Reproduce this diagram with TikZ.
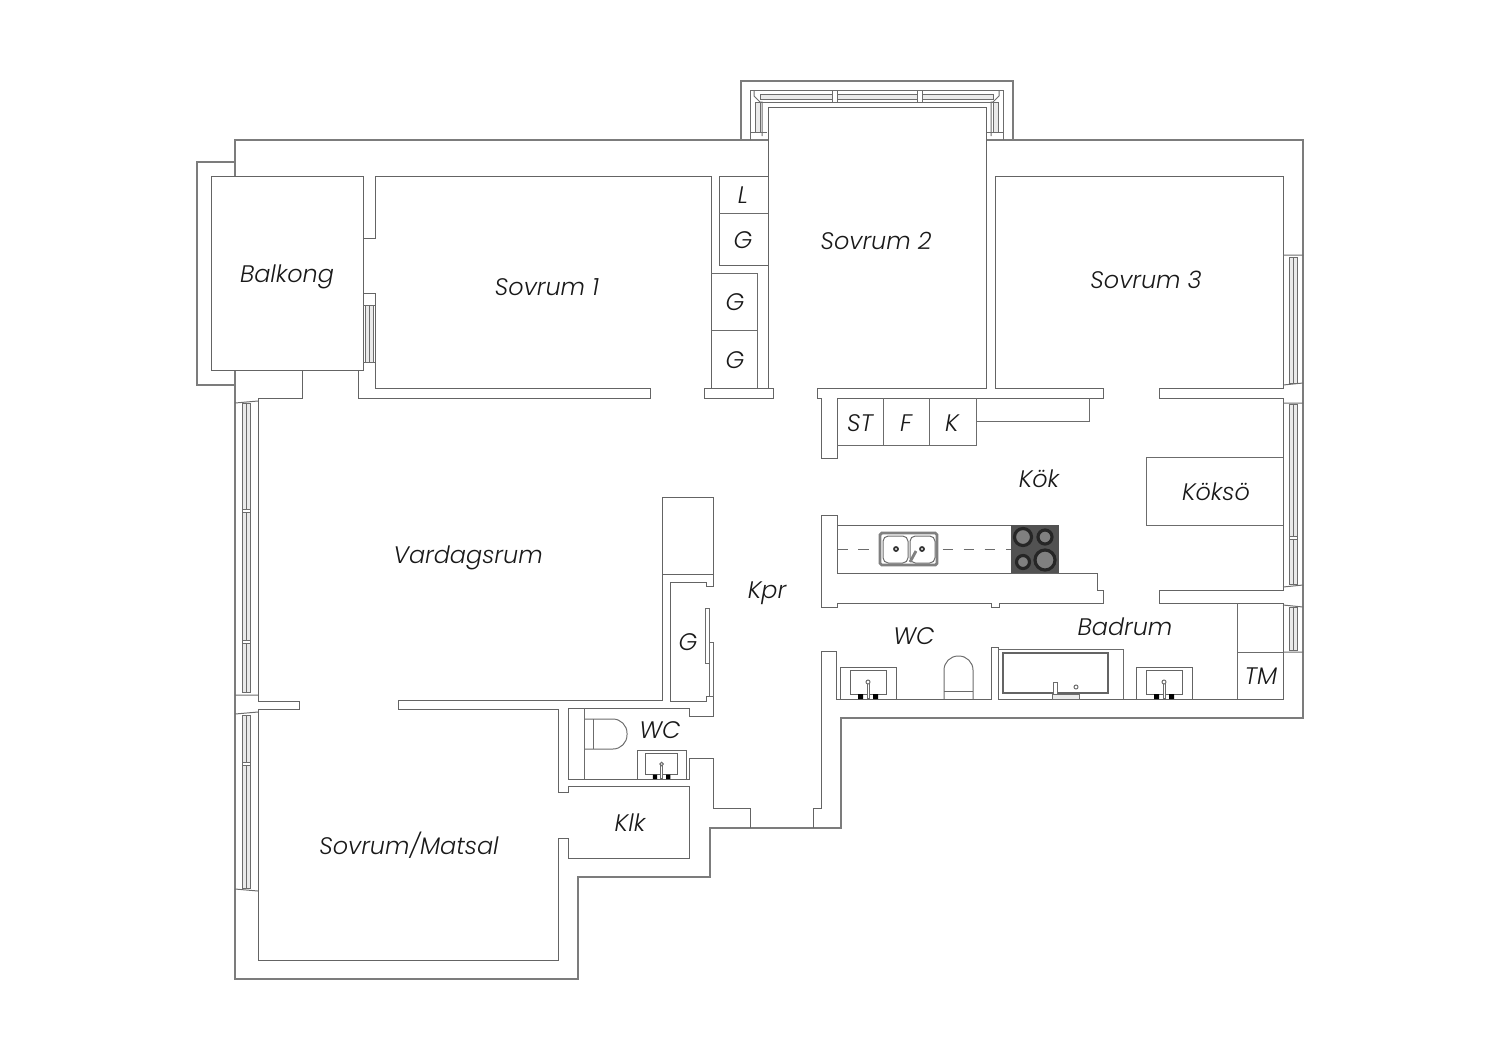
\documentclass[tikz,border=0pt]{standalone}
\usepackage{fontspec}
\setmainfont{Poppins Light Italic}
\usetikzlibrary{calc}

\definecolor{wallgray}{HTML}{646464}
\definecolor{outergray}{HTML}{7C7C7C}
\definecolor{fitgray}{HTML}{6C6C6C}
\definecolor{glassgray}{HTML}{EAEAEA}
\definecolor{hobgray}{HTML}{525252}

\tikzset{
  wall/.style={draw=wallgray, line width=0.28pt, line join=miter},
  outerwall/.style={draw=outergray, line width=0.3pt},
  fitting/.style={draw=fitgray, line width=0.28pt},
  glass/.style={draw=fitgray, line width=0.25pt, fill=glassgray},
  roomlabel/.style={font=\fontsize{6.8}{9}\selectfont, text=black!90},
  burner/.style={fill=gray, draw=black!85, line width=0.9pt}
}

% window in a vertical wall
\newcommand{\vwindow}[3]{
  \draw[glass] (#1,#2) rectangle (#1+8,#3);
  \draw[fitting] (#1+4,#2) -- (#1+4,#3);
}

% washbasin, standing on the wall below it
\newcommand{\basinunit}[3]{
  \begin{scope}[shift={(#1,#2)}, scale=#3]
    \draw[wall] (0,0) -- (0,-32) -- (56,-32) -- (56,0);
    \draw[wall] (10,-5) rectangle (46,-29);
    \fill[black] (18,-5) rectangle (23,0) (33,-5) rectangle (38,0);
    \draw[fitting, fill=white] (27,-17) rectangle (29,-1);
    \draw[fitting, fill=white] (28,-17) circle (0.02cm);
  \end{scope}
}

\begin{document}
\begin{tikzpicture}[x=0.01cm, y=-0.01cm]
  \useasboundingbox (0,0) rectangle (1500,1060);

  % Outer walls
  \draw[outerwall] (768,140) -- (235,140) -- (235,176);
  \draw[outerwall] (235,370) -- (235,979) -- (578,979) -- (578,877) -- (710,877)
    -- (710,828) -- (841,828) -- (841,718) -- (1303,718) -- (1303,140) -- (986,140);
  \draw[outerwall] (741,140) -- (741,81) -- (1013,81) -- (1013,140);
  \draw[outerwall] (235,162) -- (197,162) -- (197,385) -- (235,385);

  % Bay window
  \draw[fitting] (750,140) -- (750,90) -- (1003,90) -- (1003,140);
  \draw[glass] (760,94) rectangle (993,99);
  \draw[fitting] (760,102) -- (993,102);
  \draw[fitting] (762,136) -- (762,102) -- (760,102) -- (754,96) -- (754,90);
  \draw[fitting] (991,136) -- (991,102) -- (993,102) -- (999,96) -- (999,90);
  \draw[glass] (755,102) rectangle (760,132);
  \draw[glass] (993,102) rectangle (998,132);
  \draw[fitting] (750,132) -- (767,132) (987,132) -- (1003,132);
  \foreach \xx in {832,917}
    \draw[fitting, fill=white] (\xx,90) rectangle (\xx+5,102);

  % Balcony
  \draw[wall] (211,176) rectangle (363,370);
  \draw[wall] (302,370) -- (302,398) -- (258,398) -- (258,701) -- (299,701) -- (299,709)
    -- (258,709) -- (258,960) -- (558,960) -- (558,838) -- (568,838) -- (568,858)
    -- (689,858) -- (689,786) -- (568,786) -- (568,792) -- (558,792) -- (558,709)
    -- (398,709) -- (398,700) -- (662,700) -- (662,497) -- (713,497) -- (713,586)
    -- (706,586) -- (706,582) -- (670,582) -- (670,701) -- (706,701) -- (706,696)
    -- (713,696) -- (713,716) -- (689,716) -- (689,708) -- (568,708) -- (568,779)
    -- (689,779) -- (689,758) -- (713,758) -- (713,808) -- (750,808) -- (750,828);
  \draw[wall] (662,574) -- (713,574);

  % Sovrum 1 and closets
  \draw[wall] (363,238) -- (375,238) -- (375,176) -- (711,176) -- (711,388);
  \draw[wall] (363,293) -- (375,293) -- (375,388) -- (650,388) -- (650,398) -- (358,398) -- (358,370);
  \draw[wall] (704,388) rectangle (773,398);
  \draw[wall] (768,176) -- (719,176) -- (719,265) -- (768,265);
  \draw[fitting] (719,213) -- (768,213);
  \draw[fitting] (711,273) -- (757,273) -- (757,388);
  \draw[fitting] (711,330) -- (757,330);

  % Sovrum 2 and 3, kitchen wall
  \draw[wall] (768,388) -- (768,107) -- (986,107) -- (986,388) -- (817,388) -- (817,398)
    -- (821,398) -- (821,458) -- (837,458) -- (837,398) -- (1103,398) -- (1103,388)
    -- (995,388) -- (995,176) -- (1283,176) -- (1283,388) -- (1159,388) -- (1159,398)
    -- (1283,398) -- (1283,590) -- (1159,590) -- (1159,603) -- (1283,603) -- (1283,699)
    -- (998,699) -- (998,647) -- (991,647) -- (991,699) -- (836,699) -- (836,651)
    -- (821,651) -- (821,808) -- (813,808) -- (813,828);
  \draw[wall] (837,515) -- (821,515) -- (821,607) -- (837,607) -- (837,603) -- (991,603)
    -- (991,607) -- (999,607) -- (999,603) -- (1103,603) -- (1103,590) -- (1097,590)
    -- (1097,573) -- (837,573) -- (837,515);

  % Windows
  \vwindow{242}{403}{692}
  \vwindow{242}{715}{888}
  \vwindow{365}{305}{362}
  \vwindow{1289}{257}{383}
  \vwindow{1289}{404}{584}
  \vwindow{1289}{607}{650}
  \foreach \yy in {509,640,762}
    \draw[fitting, fill=white] (242,\yy) rectangle (250,\yy+3);
  \draw[fitting, fill=white] (1289,536) rectangle (1297,539);
  \draw[fitting] (235,403) -- (258,401) (235,695) -- (258,695) (235,714) -- (258,712)
    (235,889) -- (258,891);
  \draw[fitting] (363,305) -- (375,305) (363,362) -- (375,362);
  \draw[fitting] (1283,255) -- (1303,255) (1283,385) -- (1303,383) (1283,403) -- (1303,403)
    (1283,587) -- (1303,585) (1283,605) -- (1303,607) (1283,652) -- (1303,652);

  % Kitchen fittings
  \draw[fitting] (837,445) -- (976,445) -- (976,398);
  \draw[fitting] (883,398) -- (883,445) (929,398) -- (929,445);
  \draw[fitting] (976,421) -- (1089,421) -- (1089,398);
  \draw[fitting] (1283,457) -- (1146,457) -- (1146,525) -- (1283,525);
  \draw[wall] (837,525) -- (1011,525);
  \draw[fitting, dashed, dash pattern=on 3pt off 3pt] (837,549) -- (1011,549);
  \draw[draw=gray, line width=0.8pt, fill=white, rounded corners=0.5pt] (880,533) rectangle (937,565);
  \draw[fitting, rounded corners=1.5pt] (883,536) rectangle (908,563);
  \draw[fitting, rounded corners=1.5pt] (910,536) rectangle (935,563);
  \foreach \xx in {896,922}
    \draw[black!80, line width=0.5pt] (\xx,549) circle (0.02cm);
  \draw[gray, line width=0.8pt] (910,562) -- (916,551);

  % Hob
  \fill[hobgray] (1011,525) rectangle (1059,573);
  \draw[burner] (1023,537) circle (0.085cm);
  \draw[burner] (1045,537) circle (0.07cm);
  \draw[burner] (1023,562) circle (0.065cm);
  \draw[burner] (1045,560) circle (0.1cm);

  % Bathroom
  \draw[fitting] (1237,603) -- (1237,699) (1237,652) -- (1283,652);
  \draw[fitting] (998,649) -- (1123,649) -- (1123,699);
  \draw[wall, line width=0.7pt] (1003,653) rectangle (1108,693);
  \draw[fitting, fill=white] (1053,682) rectangle (1057,697);
  \draw[fitting, fill=glassgray] (1052,694) rectangle (1079,699);
  \draw[fitting] (1076,687) circle (0.02cm);
  \draw[fitting, rounded corners=4pt] (944,699) -- (944,656) -- (973,656) -- (973,699);
  \draw[fitting] (944,691) -- (973,691);
  \basinunit{840}{699}{1}
  \basinunit{1136}{699}{1}

  % Small WC
  \draw[fitting] (584,708) -- (584,779);
  \draw[fitting, rounded corners=4pt] (584,719) -- (627,719) -- (627,749) -- (584,749);
  \draw[fitting] (593,719) -- (593,749);
  \basinunit{637}{779}{0.88}

  % Sliding doors
  \draw[fitting, fill=white] (709,642) rectangle (713,696);
  \draw[fitting, fill=white] (705,608) rectangle (709,663);

  % Labels
  \node[roomlabel] (balkong) at (287,277) {Balkong};
  \node[roomlabel] (sovrumett) at (547,287) {Sovrum 1};
  \node[roomlabel] (sovrumtva) at (876,241) {Sovrum 2};
  \node[roomlabel] (sovrumtre) at (1146,280) {Sovrum 3};
  \node[roomlabel] (lklosett) at (743,195) {L};
  \node[roomlabel] (gklosetta) at (743,240) {G};
  \node[roomlabel] (gklosettb) at (735,302) {G};
  \node[roomlabel] (gklosettc) at (735,360) {G};
  \node[roomlabel] (gklosettd) at (688,642) {G};
  \node[roomlabel] (st) at (860,423) {ST};
  \node[roomlabel] (f) at (906,423) {F};
  \node[roomlabel] (k) at (952,423) {K};
  \node[roomlabel] (kok) at (1039,479) {Kök};
  \node[roomlabel] (kokso) at (1216,492) {Köksö};
  \node[roomlabel] (vardagsrum) at (468,558) {Vardagsrum};
  \node[roomlabel] (kpr) at (767,593) {Kpr};
  \node[roomlabel] (wcstor) at (914,636) {WC};
  \node[roomlabel] (badrum) at (1125,627) {Badrum};
  \node[roomlabel] (tm) at (1261,676) {TM};
  \node[roomlabel] (wcliten) at (660,730) {WC};
  \node[roomlabel] (klk) at (630,823) {Klk};
  \node[roomlabel] (matsal) at (409,845) {Sovrum/Matsal};
\end{tikzpicture}
\end{document}
